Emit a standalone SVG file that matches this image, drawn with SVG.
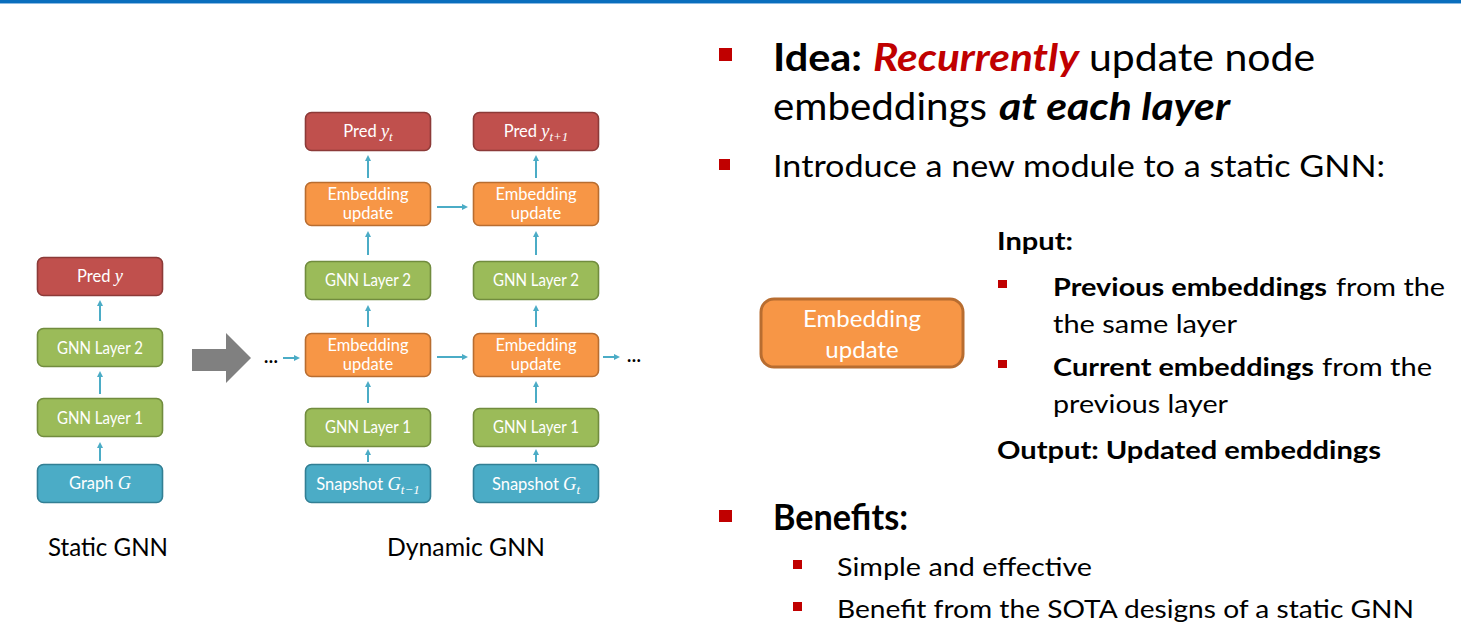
<svg xmlns="http://www.w3.org/2000/svg" width="1461" height="641" viewBox="0 0 1461 641">
  <style>
    .box { stroke-width: 1.6; }
    .pred { fill: #C0504D; stroke: #8C3A38; }
    .gnn { fill: #9BBB59; stroke: #718C3E; }
    .emb { fill: #F79646; stroke: #B86D30; }
    .graph { fill: #4BACC6; stroke: #327F94; }
    .bt { font-family: Lato, "Open Sans", sans-serif; font-size: 16.5px; fill: #FFFFFF; text-anchor: middle; }
    .m { font-family: "Liberation Serif", "DejaVu Serif", serif; font-style: italic; font-size: 18.5px; }
    .sub { font-size: 13px; }
    .arrow { stroke: #4BACC6; stroke-width: 2; fill: none; marker-end: url(#head); }
    .cap { font-family: Lato, "Open Sans", sans-serif; font-size: 25px; fill: #000000; }
    .t { font-family: Lato, "Open Sans", sans-serif; fill: #000000; }
    .b { font-weight: bold; }
    .bullet { fill: #C00000; }
  </style>
  <defs>
    <marker id="head" viewBox="0 0 6 6" markerWidth="6" markerHeight="6" refX="1" refY="3" orient="auto" markerUnits="userSpaceOnUse">
      <path d="M0,0 L6,3 L0,6 z" fill="#4BACC6"/>
    </marker>
  </defs>

  <!-- header rule -->
  <rect x="0" y="0" width="1461" height="3" fill="#0A6EBD"/>
  <rect x="0" y="3" width="1461" height="1" fill="#8DBBE3"/>

  <!-- static GNN column -->
  <g id="static-pred">
    <rect class="box pred" x="37.5" y="257.5" width="125" height="38" rx="6"/>
    <text class="bt" x="100" y="282">Pred <tspan class="m">y</tspan></text>
  </g>
  <g id="static-gnn2">
    <rect class="box gnn" x="37.5" y="328.5" width="125" height="38" rx="6"/>
    <text class="bt" x="100" y="354" textLength="86" lengthAdjust="spacingAndGlyphs">GNN Layer 2</text>
  </g>
  <g id="static-gnn1">
    <rect class="box gnn" x="37.5" y="398.5" width="125" height="38" rx="6"/>
    <text class="bt" x="100" y="424" textLength="86" lengthAdjust="spacingAndGlyphs">GNN Layer 1</text>
  </g>
  <g id="static-graph">
    <rect class="box graph" x="37.5" y="464.5" width="125" height="38" rx="6"/>
    <text class="bt" x="100" y="489">Graph <tspan class="m">G</tspan></text>
  </g>
  <text class="cap" x="48" y="556" textLength="120" lengthAdjust="spacingAndGlyphs">Static GNN</text>

  <!-- transformation arrow -->
  <g id="transform-arrow">
    <polygon points="192,349 226,349 226,333 251,358 226,383 226,371 192,371" fill="#808080"/>
  </g>

  <!-- dynamic GNN, snapshot t-1 -->
  <g id="dyn1-pred">
    <rect class="box pred" x="305.5" y="112.5" width="125" height="38" rx="6"/>
    <text class="bt" x="368" y="137">Pred <tspan class="m">y</tspan><tspan class="m sub" dy="4">t</tspan></text>
  </g>
  <g id="dyn1-emb2">
    <rect class="box emb" x="305.5" y="182.5" width="125" height="43" rx="6"/>
    <text class="bt" x="368" y="200">Embedding</text>
    <text class="bt" x="368" y="219">update</text>
  </g>
  <g id="dyn1-gnn2">
    <rect class="box gnn" x="305.5" y="261.5" width="125" height="38" rx="6"/>
    <text class="bt" x="368" y="286" textLength="86" lengthAdjust="spacingAndGlyphs">GNN Layer 2</text>
  </g>
  <g id="dyn1-emb1">
    <rect class="box emb" x="305.5" y="333.5" width="125" height="43" rx="6"/>
    <text class="bt" x="368" y="351">Embedding</text>
    <text class="bt" x="368" y="370">update</text>
  </g>
  <g id="dyn1-gnn1">
    <rect class="box gnn" x="305.5" y="408.5" width="125" height="38" rx="6"/>
    <text class="bt" x="368" y="433" textLength="86" lengthAdjust="spacingAndGlyphs">GNN Layer 1</text>
  </g>
  <g id="dyn1-snap">
    <rect class="box graph" x="305.5" y="464.5" width="125" height="38" rx="6"/>
    <text class="bt" x="368" y="490">Snapshot <tspan class="m">G</tspan><tspan class="m sub" dy="4">t−1</tspan></text>
  </g>

  <!-- dynamic GNN, snapshot t -->
  <g id="dyn2-pred">
    <rect class="box pred" x="473.5" y="112.5" width="125" height="38" rx="6"/>
    <text class="bt" x="536" y="137">Pred <tspan class="m">y</tspan><tspan class="m sub" dy="4">t+1</tspan></text>
  </g>
  <g id="dyn2-emb2">
    <rect class="box emb" x="473.5" y="182.5" width="125" height="43" rx="6"/>
    <text class="bt" x="536" y="200">Embedding</text>
    <text class="bt" x="536" y="219">update</text>
  </g>
  <g id="dyn2-gnn2">
    <rect class="box gnn" x="473.5" y="261.5" width="125" height="38" rx="6"/>
    <text class="bt" x="536" y="286" textLength="86" lengthAdjust="spacingAndGlyphs">GNN Layer 2</text>
  </g>
  <g id="dyn2-emb1">
    <rect class="box emb" x="473.5" y="333.5" width="125" height="43" rx="6"/>
    <text class="bt" x="536" y="351">Embedding</text>
    <text class="bt" x="536" y="370">update</text>
  </g>
  <g id="dyn2-gnn1">
    <rect class="box gnn" x="473.5" y="408.5" width="125" height="38" rx="6"/>
    <text class="bt" x="536" y="433" textLength="86" lengthAdjust="spacingAndGlyphs">GNN Layer 1</text>
  </g>
  <g id="dyn2-snap">
    <rect class="box graph" x="473.5" y="464.5" width="125" height="38" rx="6"/>
    <text class="bt" x="536" y="490">Snapshot <tspan class="m">G</tspan><tspan class="m sub" dy="4">t</tspan></text>
  </g>
  <text class="cap" x="387" y="556" textLength="158" lengthAdjust="spacingAndGlyphs">Dynamic GNN</text>

  <!-- continuation dots -->
  <text class="t b" x="271" y="363" font-size="18" text-anchor="middle">…</text>
  <text class="t b" x="634" y="362" font-size="18" text-anchor="middle">…</text>

  <!-- connectors -->
  <g id="connectors">
    <line class="arrow" x1="100" y1="321" x2="100" y2="305"/>
    <line class="arrow" x1="100" y1="394" x2="100" y2="376"/>
    <line class="arrow" x1="100" y1="461" x2="100" y2="447"/>

    <line class="arrow" x1="368" y1="178" x2="368" y2="160"/>
    <line class="arrow" x1="368" y1="255" x2="368" y2="236"/>
    <line class="arrow" x1="368" y1="327" x2="368" y2="310"/>
    <line class="arrow" x1="368" y1="403" x2="368" y2="386"/>
    <line class="arrow" x1="368" y1="462" x2="368" y2="454"/>

    <line class="arrow" x1="536" y1="178" x2="536" y2="160"/>
    <line class="arrow" x1="536" y1="255" x2="536" y2="236"/>
    <line class="arrow" x1="536" y1="327" x2="536" y2="310"/>
    <line class="arrow" x1="536" y1="403" x2="536" y2="386"/>
    <line class="arrow" x1="536" y1="462" x2="536" y2="454"/>

    <line class="arrow" x1="437" y1="207" x2="463" y2="207"/>
    <line class="arrow" x1="437" y1="357" x2="463" y2="357"/>
    <line class="arrow" x1="283" y1="358" x2="295" y2="358"/>
    <line class="arrow" x1="603" y1="357" x2="615" y2="357"/>
  </g>

  <!-- module legend box -->
  <g id="legend-emb">
    <rect x="761" y="299" width="202" height="68" rx="13" fill="#F79646" stroke="#B86D30" stroke-width="3"/>
    <text class="t" x="862" y="327" font-size="24" text-anchor="middle" style="fill:#FFFFFF">Embedding</text>
    <text class="t" x="862" y="358" font-size="24" text-anchor="middle" style="fill:#FFFFFF">update</text>
  </g>

  <!-- bullet text -->
  <rect class="bullet" x="719" y="48" width="13" height="13"/>
  <text class="t" font-size="38.5" y="71">
    <tspan class="b" x="773" textLength="89" lengthAdjust="spacingAndGlyphs">Idea:</tspan>
    <tspan class="b" x="873" font-style="italic" fill="#C00000" textLength="206" lengthAdjust="spacingAndGlyphs">Recurrently</tspan>
    <tspan x="1089" textLength="226" lengthAdjust="spacingAndGlyphs">update node</tspan>
  </text>
  <text class="t" font-size="38.5" y="120">
    <tspan x="773" textLength="214" lengthAdjust="spacingAndGlyphs">embeddings</tspan>
    <tspan class="b" x="999" font-style="italic" textLength="231" lengthAdjust="spacingAndGlyphs">at each layer</tspan>
  </text>

  <rect class="bullet" x="719" y="159" width="11" height="11"/>
  <text class="t" font-size="30.5" x="773" y="177" textLength="612" lengthAdjust="spacingAndGlyphs">Introduce a new module to a static GNN:</text>

  <text class="t b" font-size="25" x="997" y="250" textLength="76" lengthAdjust="spacingAndGlyphs">Input:</text>
  <rect class="bullet" x="998" y="280" width="9" height="8"/>
  <text class="t" font-size="25" y="296">
    <tspan class="b" x="1053" textLength="274" lengthAdjust="spacingAndGlyphs">Previous embeddings</tspan>
    <tspan x="1336" textLength="109" lengthAdjust="spacingAndGlyphs">from the</tspan>
  </text>
  <text class="t" font-size="25" x="1053" y="333" textLength="184" lengthAdjust="spacingAndGlyphs">the same layer</text>
  <rect class="bullet" x="998" y="360" width="9" height="8"/>
  <text class="t" font-size="25" y="376">
    <tspan class="b" x="1053" textLength="261" lengthAdjust="spacingAndGlyphs">Current embeddings</tspan>
    <tspan x="1322" textLength="110" lengthAdjust="spacingAndGlyphs">from the</tspan>
  </text>
  <text class="t" font-size="25" x="1053" y="413" textLength="175" lengthAdjust="spacingAndGlyphs">previous layer</text>
  <text class="t b" font-size="25" x="997" y="459" textLength="384" lengthAdjust="spacingAndGlyphs">Output: Updated embeddings</text>

  <rect class="bullet" x="719" y="510" width="13" height="12"/>
  <text class="t b" font-size="36" x="773" y="530" textLength="135" lengthAdjust="spacingAndGlyphs">Benefits:</text>
  <rect class="bullet" x="793" y="560" width="9" height="9"/>
  <text class="t" font-size="25" x="837" y="576" textLength="255" lengthAdjust="spacingAndGlyphs">Simple and effective</text>
  <rect class="bullet" x="793" y="602" width="9" height="9"/>
  <text class="t" font-size="25" x="837" y="618" textLength="577" lengthAdjust="spacingAndGlyphs">Benefit from the SOTA designs of a static GNN</text>
</svg>
